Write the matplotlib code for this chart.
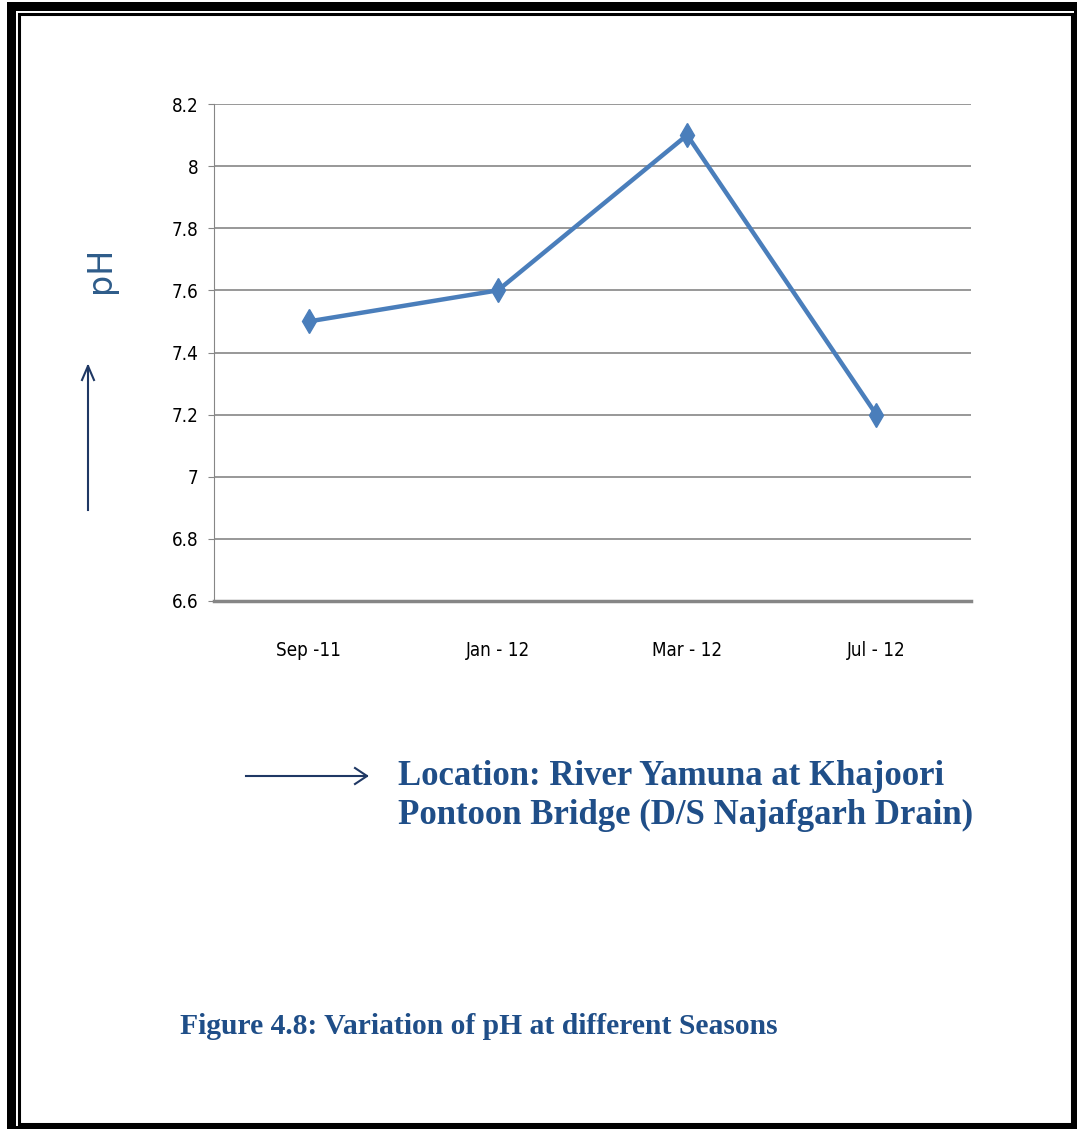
import matplotlib.pyplot as plt
from matplotlib.patches import Rectangle
from matplotlib.lines import Line2D

seasons = ['Sep -11', 'Jan - 12', 'Mar - 12', 'Jul - 12']
ph_values = [7.5, 7.6, 8.1, 7.2]
y_ticks = [6.6, 6.8, 7, 7.2, 7.4, 7.6, 7.8, 8, 8.2]
y_tick_labels = ['6.6', '6.8', '7', '7.2', '7.4', '7.6', '7.8', '8', '8.2']

W, H = 1077, 1130
fig = plt.figure(figsize=(W / 100, H / 100), dpi=100)

def fx(px):
    return px / W

def fy(py):
    return 1 - py / H

# page border: thick outer frame top/left, thin inner frame
fig.add_artist(Rectangle((fx(7), fy(1129)), fx(9), fy(2) - fy(1129), transform=fig.transFigure,
                         color='black', lw=0))
fig.add_artist(Rectangle((fx(7), fy(11)), fx(1077) - fx(7), fy(2) - fy(11), transform=fig.transFigure,
                         color='black', lw=0))
fig.add_artist(Rectangle((fx(1074), fy(1129)), fx(3), fy(2) - fy(1129), transform=fig.transFigure,
                         color='black', lw=0))
fig.add_artist(Rectangle((fx(7), fy(1129)), fx(1077) - fx(7), fy(1126) - fy(1129), transform=fig.transFigure,
                         color='black', lw=0))
fig.add_artist(Rectangle((fx(19), fy(1124)), fx(1072) - fx(19), fy(14) - fy(1124), transform=fig.transFigure,
                         fill=False, edgecolor='black', lw=2.2))

ax = fig.add_axes([fx(214), fy(601), fx(971) - fx(214), fy(104) - fy(601)])
x = list(range(len(seasons)))
ax.plot(x, ph_values, color='#4a7ebb', lw=3.2, marker='d', markersize=12,
        markerfacecolor='#4a7ebb', markeredgecolor='#4a7ebb', zorder=3)

ax.set_xlim(-0.5, len(seasons) - 0.5)
ax.set_ylim(6.6, 8.2)
ax.set_yticks(y_ticks)
ax.set_yticklabels(y_tick_labels)
ax.set_xticks(x)
ax.set_xticklabels(seasons)
ax.grid(axis='y', color='#868686', lw=1.2)
ax.set_axisbelow(True)
for side in ['top', 'right']:
    ax.spines[side].set_visible(False)
ax.spines['left'].set_color('#868686')
ax.spines['bottom'].set_color('#868686')
ax.spines['bottom'].set_linewidth(2.5)
ax.tick_params(axis='y', length=4, color='#868686', pad=7)
ax.tick_params(axis='x', length=0, pad=29)
for lab in ax.get_xticklabels() + ax.get_yticklabels():
    lab.set_fontfamily('DejaVu Sans')
    lab.set_fontstretch('condensed')
    lab.set_fontsize(13.5)
    lab.set_color('black')

navy = '#1f3864'
# y-axis label with arrow
fig.text(fx(100), fy(270), 'pH', rotation=90, ha='center', va='center',
         fontsize=24, color='#2e5c8a', family=['DejaVu Sans'])
fig.add_artist(Line2D([fx(88), fx(88)], [fy(510), fy(366)], transform=fig.transFigure,
                      color=navy, lw=1.5))
fig.add_artist(Line2D([fx(82), fx(88), fx(94)], [fy(380), fy(366), fy(380)],
                      transform=fig.transFigure, color=navy, lw=1.5))

# x-axis caption with arrow
fig.add_artist(Line2D([fx(246), fx(367)], [fy(776), fy(776)], transform=fig.transFigure,
                      color=navy, lw=1.5))
fig.add_artist(Line2D([fx(355), fx(367), fx(355)], [fy(768), fy(776), fy(784)],
                      transform=fig.transFigure, color=navy, lw=1.5))
fig.text(fx(398), fy(796), 'Location: River Yamuna at Khajoori\nPontoon Bridge (D/S Najafgarh Drain)',
         ha='left', va='center', fontsize=25, fontweight='bold', color='#1f4e88',
         family='Liberation Serif', linespacing=1.2)

fig.text(fx(180), fy(1027), 'Figure 4.8: Variation of pH at different Seasons', ha='left',
         va='center', fontsize=21.3, fontweight='bold', color='#1f4e88', family='Liberation Serif')

fig.savefig('out.png', dpi=100)
